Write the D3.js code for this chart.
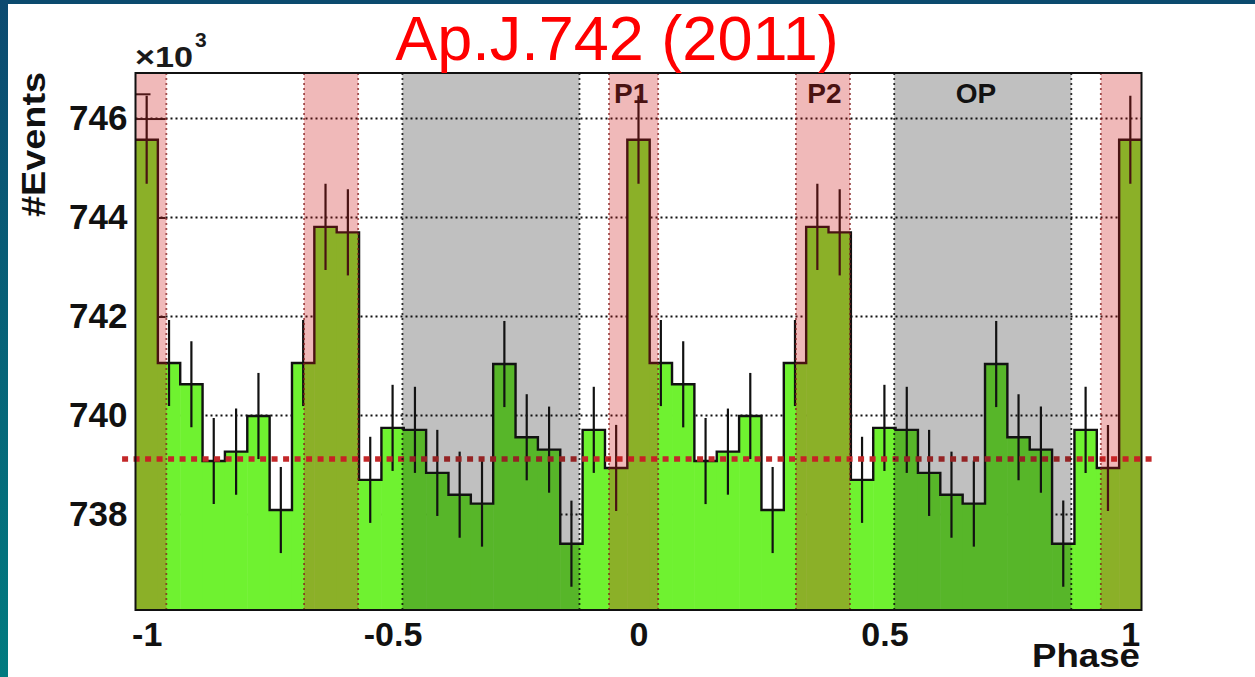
<!DOCTYPE html>
<html>
<head>
<meta charset="utf-8">
<script src="https://cdn.jsdelivr.net/npm/d3@7"></script>
<style>
  body { margin: 0; background: #fff; }
  svg { display: block; }
  text { font-family: "Liberation Sans", Arial, sans-serif; }
</style>
</head>
<body>
<div id="canvas"></div>
<script>
// histogram: 45 bins of width 1/22 centred on k/22, k = -22..22
const binWidth = 1 / 22;
const phaseStart = -1 - 1 / 44;
const counts = [
  745.57, 741.06, 740.63, 739.08, 739.27, 739.99, 738.09, 741.06, 743.81, 743.70,
  738.70, 739.75, 739.71, 738.84, 738.40, 738.22, 741.04, 739.56, 739.31, 737.41,
  739.71, 738.94, 745.57,
  741.06, 740.63, 739.08, 739.27, 739.99, 738.09, 741.06, 743.81, 743.70,
  738.70, 739.75, 739.71, 738.84, 738.40, 738.22, 741.04, 739.56, 739.31, 737.41,
  739.71, 738.94, 745.57
];
const errors = [
  0.89, 0.87, 0.87, 0.87, 0.87, 0.87, 0.87, 0.87, 0.87, 0.87,
  0.87, 0.87, 0.87, 0.87, 0.87, 0.87, 0.87, 0.87, 0.87, 0.87,
  0.87, 0.87, 0.89,
  0.87, 0.87, 0.87, 0.87, 0.87, 0.87, 0.87, 0.87, 0.87,
  0.87, 0.87, 0.87, 0.87, 0.87, 0.87, 0.87, 0.87, 0.87, 0.87,
  0.87, 0.87, 0.89
];

const yTicks = [738, 740, 742, 744, 746];
const yMinorTicks = [736.5, 737, 737.5, 738.5, 739, 739.5, 740.5, 741, 741.5, 742.5, 743, 743.5, 744.5, 745, 745.5, 746.5];
const xTicks = [-1, -0.5, 0, 0.5, 1];
const xTickLabels = ["-1", "-0.5", "0", "0.5", "1"];

// signal regions (pink) and off-pulse region (grey)
const pulseBands = [[-1.06, -0.96], [-0.68, -0.57], [-0.06, 0.04], [0.32, 0.43], [0.94, 1.04]];
const offBands = [[-0.48, -0.12], [0.52, 0.88]];
const bandLabels = ["P1", "P2", "OP"];
const bandLabelPhases = [-0.015, 0.378, 0.686];

// background level from the OP region
const offLevel = 739.12;
const offLineRange = [-1.05, 1.045];

const width = 1255, height = 677;
const margin = { top: 73, left: 135.5, bottom: 67, right: 113.5 };

const svg = d3.select("#canvas").append("svg")
  .attr("width", width).attr("height", height);

// slide frame
const defs = svg.append("defs");
const grad = defs.append("linearGradient").attr("id", "sideGrad")
  .attr("x1", 0).attr("y1", 0).attr("x2", 0).attr("y2", 1);
grad.append("stop").attr("offset", "0%").attr("stop-color", "#0c4a70");
grad.append("stop").attr("offset", "100%").attr("stop-color", "#017b80");
svg.append("rect").attr("width", width).attr("height", height).attr("fill", "#fff");
svg.append("rect").attr("x", 0).attr("y", 0).attr("width", width).attr("height", 4).attr("fill", "#0b4a6e");
svg.append("rect").attr("x", 0).attr("y", 0).attr("width", 8).attr("height", height).attr("fill", "url(#sideGrad)");

const x = d3.scaleLinear()
  .domain([phaseStart, phaseStart + counts.length * binWidth])
  .range([margin.left, width - margin.right]);
const y = d3.scaleLinear()
  .domain([736.07, 746.92])
  .range([height - margin.bottom, margin.top]);

const x0 = x.range()[0], x1 = x.range()[1];
const yB = y.range()[0], yT = y.range()[1];

defs.append("clipPath").attr("id", "plotClip")
  .append("rect").attr("x", x0).attr("y", yT).attr("width", x1 - x0).attr("height", yB - yT);

// grid
svg.append("g").attr("clip-path", "url(#plotClip)")
  .selectAll("line").data(yTicks).enter().append("line")
  .attr("x1", x0).attr("x2", x1)
  .attr("y1", d => y(d)).attr("y2", d => y(d))
  .attr("stroke", "#111").attr("stroke-width", 2).attr("stroke-dasharray", "2,3");

// axes (ticks inward, like ROOT) -- drawn below the histogram
const yAxis = svg.append("g").attr("transform", `translate(${x0},0)`)
  .call(d3.axisLeft(y).tickValues(yTicks).tickSizeInner(-30).tickSizeOuter(0).tickPadding(8).tickFormat(d3.format("d")));
const yMinor = svg.append("g").attr("transform", `translate(${x0},0)`)
  .call(d3.axisLeft(y).tickValues(yMinorTicks).tickSizeInner(-15).tickSizeOuter(0).tickFormat(""));
const xAxis = svg.append("g").attr("transform", `translate(0,${yB})`)
  .call(d3.axisBottom(x).tickValues(xTicks).tickSizeInner(-16).tickSizeOuter(0).tickPadding(12)
    .tickFormat((d, i) => xTickLabels[i]));
[yAxis, yMinor, xAxis].forEach(g => {
  g.select(".domain").remove();
  g.selectAll("line").attr("stroke", "#1a1a1a").attr("stroke-width", 2);
});
yAxis.selectAll("text").attr("font-size", 35).attr("font-weight", "bold").attr("fill", "#111")
  .attr("font-family", "Liberation Sans, Arial, sans-serif");
xAxis.selectAll("text").attr("font-size", 34).attr("font-weight", "bold").attr("fill", "#111")
  .attr("font-family", "Liberation Sans, Arial, sans-serif");

// histogram
const plot = svg.append("g").attr("clip-path", "url(#plotClip)");
const bins = counts.map((c, i) => ({
  lo: phaseStart + i * binWidth,
  hi: phaseStart + (i + 1) * binWidth,
  c: c, e: errors[i]
}));
plot.selectAll(".bar").data(bins).enter().append("rect")
  .attr("x", d => x(d.lo)).attr("width", d => x(d.hi) - x(d.lo) + 0.5)
  .attr("y", d => y(d.c)).attr("height", d => yB - y(d.c))
  .attr("fill", "#6ff230");

const stepPts = bins.map(d => [x(d.lo), y(d.c)]);
stepPts.push([x(bins[bins.length - 1].hi), y(bins[bins.length - 1].c)]);
plot.append("path").attr("d", d3.line().curve(d3.curveStepAfter)(stepPts))
  .attr("fill", "none").attr("stroke", "#111").attr("stroke-width", 2.4);

plot.selectAll(".err").data(bins).enter().append("line")
  .attr("x1", d => x((d.lo + d.hi) / 2)).attr("x2", d => x((d.lo + d.hi) / 2))
  .attr("y1", d => y(d.c - d.e)).attr("y2", d => y(d.c + d.e))
  .attr("stroke", "#111").attr("stroke-width", 2.2);

// region labels
svg.selectAll(".blabel").data(bandLabels).enter().append("text")
  .attr("x", (d, i) => x(bandLabelPhases[i])).attr("y", 103)
  .attr("text-anchor", "middle").attr("font-size", 28).attr("font-weight", "bold")
  .attr("fill", "#111").text(d => d);

// background level line
svg.append("line")
  .attr("x1", x(offLineRange[0])).attr("x2", x(offLineRange[1]))
  .attr("y1", y(offLevel)).attr("y2", y(offLevel))
  .attr("stroke", "#c3282a").attr("stroke-width", 5.5).attr("stroke-dasharray", "6,5.5");

// translucent phase regions
const overlay = svg.append("g").attr("clip-path", "url(#plotClip)");
const drawBands = (data, fill, edge) => {
  overlay.selectAll(null).data(data).enter().append("rect")
    .attr("x", d => x(d[0])).attr("width", d => x(d[1]) - x(d[0]))
    .attr("y", yT).attr("height", yB - yT).attr("fill", fill);
  overlay.selectAll(null).data(data.flat()).enter().append("line")
    .attr("x1", d => x(d)).attr("x2", d => x(d))
    .attr("y1", yT).attr("y2", yB)
    .attr("stroke", edge).attr("stroke-width", 1.8).attr("stroke-dasharray", "2,3");
};
drawBands(pulseBands, "rgba(205,22,22,0.3)", "rgba(130,25,25,0.75)");
drawBands(offBands, "rgba(22,22,22,0.27)", "rgba(10,10,10,0.85)");

// frame
svg.append("rect").attr("x", x0).attr("y", yT).attr("width", x1 - x0).attr("height", yB - yT)
  .attr("fill", "none").attr("stroke", "#111").attr("stroke-width", 2);

// titles
svg.append("text").attr("transform", "translate(45,72) rotate(-90)")
  .attr("text-anchor", "end").attr("font-size", 34).attr("font-weight", "bold").attr("fill", "#111")
  .attr("textLength", 145).attr("lengthAdjust", "spacingAndGlyphs")
  .text("#Events");
svg.append("text").attr("x", 1140).attr("y", 667)
  .attr("text-anchor", "end").attr("font-size", 33).attr("font-weight", "bold").attr("fill", "#111")
  .attr("textLength", 108).attr("lengthAdjust", "spacingAndGlyphs")
  .text("Phase");
svg.append("text").attr("x", 135).attr("y", 67).attr("font-size", 29).attr("font-weight", "bold").attr("fill", "#1a1a1a")
  .attr("textLength", 58).attr("lengthAdjust", "spacingAndGlyphs")
  .text("\u00d710");
svg.append("text").attr("x", 195).attr("y", 47).attr("font-size", 21).attr("font-weight", "bold").attr("fill", "#1a1a1a")
  .text("3");

svg.append("text").attr("x", 617).attr("y", 60).attr("text-anchor", "middle")
  .attr("font-size", 63).attr("fill", "#ff0000").text("Ap.J.742 (2011)");
</script>
</body>
</html>
